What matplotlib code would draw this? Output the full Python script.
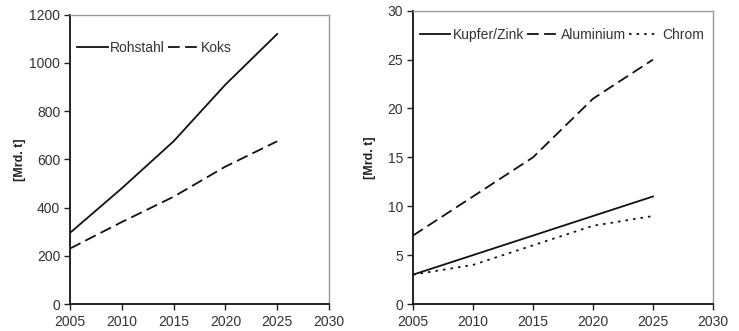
import matplotlib
matplotlib.use("Agg")
import matplotlib.pyplot as plt

years = [2005, 2010, 2015, 2020, 2025]
rohstahl = [295, 480, 675, 910, 1120]
koks = [230, 340, 445, 570, 675]
kupfer_zink = [3, 5, 7, 9, 11]
aluminium = [7, 11, 15, 21, 25]
chrom = [3, 4, 6, 8, 9]

plt.rcParams['font.family'] = ['Liberation Sans', 'DejaVu Sans']
plt.rcParams['font.size'] = 10

W, H = 739, 331
fig = plt.figure(figsize=(W/100, H/100), dpi=100)
ax1 = fig.add_axes([70/W, 1-304/H, (329-70)/W, (304-14.7)/H])
ax2 = fig.add_axes([413/W, 1-304/H, (713-413)/W, (304-10.7)/H])

lw = 1.3
dash = (6.5, 3)
dot = (1.4, 2.8)
ax1.plot(years, rohstahl, color='#111111', lw=lw, label='Rohstahl')
ax1.plot(years, koks, color='#111111', lw=lw, dashes=dash, label='Koks')
ax1.set_ylim(0, 1200)
ax1.set_yticks(range(0, 1201, 200))

ax2.plot(years, kupfer_zink, color='#111111', lw=lw, label='Kupfer/Zink')
ax2.plot(years, aluminium, color='#111111', lw=lw, dashes=dash, label='Aluminium')
ax2.plot(years, chrom, color='#111111', lw=lw, dashes=dot, label='Chrom')
ax2.set_ylim(0, 30)
ax2.set_yticks(range(0, 31, 5))

legend_pos = {ax1: (0.027, 0.885), ax2: (0.023, 0.917)}
ylabel_x = {ax1: 26, ax2: 376}

for ax in (ax1, ax2):
    ax.set_xlim(2005, 2030)
    ax.set_xticks(range(2005, 2031, 5))
    for s in ax.spines.values():
        s.set_color('#999999')
        s.set_linewidth(1.0)
    ax.spines['left'].set_color('#111111')
    ax.spines['bottom'].set_color('#111111')
    ax.spines['left'].set_linewidth(1.3)
    ax.spines['bottom'].set_linewidth(1.3)
    ax.tick_params(direction='out', length=4, width=1.0, color='#222222',
                   labelcolor='#333333', labelsize=10, pad=3)
    ax.tick_params(axis='x', pad=4)
    ax.set_ylabel('[Mrd. t]', fontweight='bold', fontsize=9, color='#222222')
    bb = ax.get_position()
    ax.yaxis.set_label_coords((ylabel_x[ax]/W - bb.x0)/bb.width, 0.5)
    ax.legend(loc='center left', ncol=3, frameon=False, handlelength=2.2,
              handletextpad=0.2, columnspacing=0.2, fontsize=10,
              bbox_to_anchor=legend_pos[ax], borderaxespad=0, borderpad=0,
              labelcolor='#333333')

fig.savefig('out.png', dpi=100)
